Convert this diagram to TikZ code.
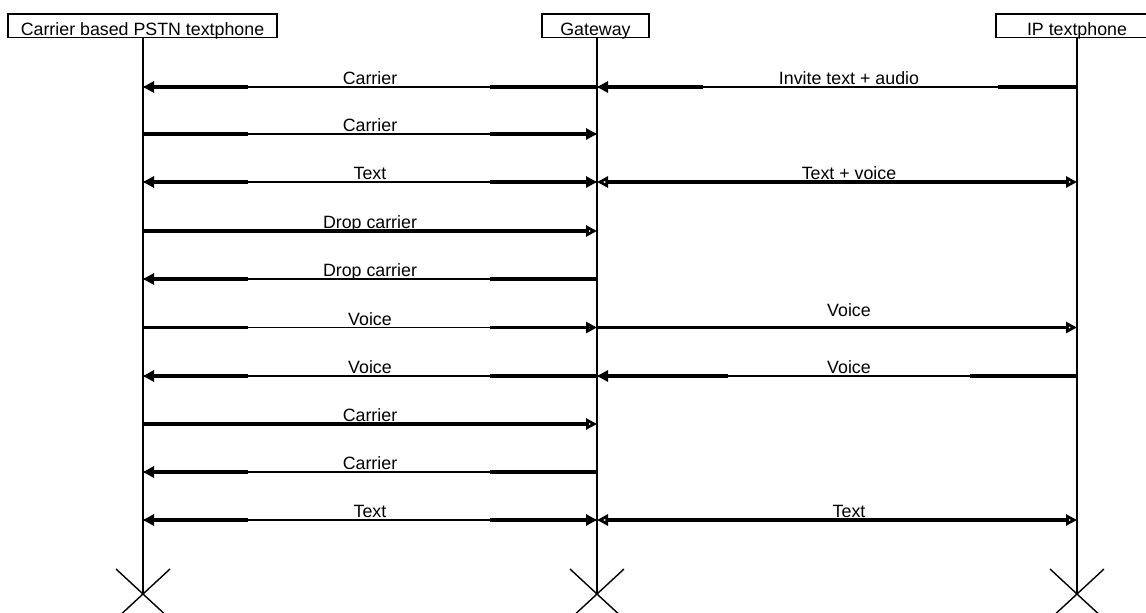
\documentclass[tikz,border=0pt]{standalone}
\usepackage{fontspec}
\setmainfont{Liberation Sans}
\usetikzlibrary{arrows.meta,calc}
\tikzset{
  Tp/.tip={Triangle[open,length=11pt,width=11pt,line width=2.8pt]},
  thn/.style={line width=1.3pt},
  thk/.style={line width=3.6pt},
  life/.style={line width=1.5pt},
  head/.style={draw,line width=1.4pt,inner sep=0pt,text height=21.7pt,text depth=2pt,anchor=base},
  lbl/.style={anchor=base,inner sep=0pt},
}
\newcommand\msgsplit[6]{%
  \draw[thn] (#1) -- (#2);
  \draw[thk,#5-] (#1) -- ++(#3,0);
  \draw[thk,-#6] ($(#2)+(-#4,0)$) -- (#2);
}
\newcommand\msgfull[4]{%
  \draw[thk,#3-#4] (#1) -- (#2);
}
\begin{document}
\begin{tikzpicture}[x=1pt,y=-1pt,font=\fontsize{17.8}{20}\selectfont]
\useasboundingbox (0,0) rectangle (1146,613);
\clip (0,0) rectangle (1146,613);
% header boxes
\node[head,minimum width=269pt] (pstn) at (142.5,35.7) {Carrier based PSTN textphone};
\node[head,minimum width=107pt] (gw) at (595.5,35.7) {Gateway};
\node[head,minimum width=162pt] (ip) at (1077,35.7) {IP textphone};
% lifeline ends
\coordinate (eL) at (143,594);
\coordinate (eG) at (597,594);
\coordinate (eR) at (1077,594);
\draw[life] (pstn.south -| eL) -- (eL);
\draw[life] (gw.south -| eG) -- (eG);
\draw[life] (ip.south -| eR) -- (eR);
\foreach \c in {eL,eG,eR}{
  \draw[line width=1.4pt] ($(\c)+(-27,-25)$) -- ($(\c)+(27,25)$);
  \draw[line width=1.4pt] ($(\c)+(27,-25)$) -- ($(\c)+(-27,25)$);
}
% row coordinates
\foreach \i/\y in {1/87,2/134,3/182,4/231,5/279,6/327.5,7/376,8/424,9/472,10/520}{
  \coordinate (L\i) at (143,\y);
  \coordinate (G\i) at (597,\y);
  \coordinate (R\i) at (1077,\y);
}
% messages
\msgsplit{L1}{G1}{105}{107}{Tp}{}
\msgsplit{G1}{R1}{106}{79}{Tp}{}
\msgsplit{L2}{G2}{105}{107}{}{Tp}
\msgsplit{L3}{G3}{105}{107}{Tp}{Tp}
\msgfull{G3}{R3}{Tp}{Tp}
\msgfull{L4}{G4}{}{Tp}
\msgsplit{L5}{G5}{105}{107}{Tp}{}
\msgsplit{L6}{G6}{105}{107}{}{Tp}
\msgfull{G6}{R6}{}{Tp}
\msgsplit{L7}{G7}{105}{107}{Tp}{}
\msgsplit{G7}{R7}{131}{107}{Tp}{}
\msgfull{L8}{G8}{}{Tp}
\msgsplit{L9}{G9}{105}{107}{Tp}{}
\msgsplit{L10}{G10}{105}{107}{Tp}{Tp}
\msgfull{G10}{R10}{Tp}{Tp}
% labels
\node[lbl] (t1) at (370,84) {Carrier};
\node[lbl] (t1r) at (849,84) {Invite text + audio};
\node[lbl] (t2) at (370,131.5) {Carrier};
\node[lbl] (t3) at (370,179.5) {Text};
\node[lbl] (t3r) at (849,179.5) {Text + voice};
\node[lbl] (t4) at (370,228.5) {Drop carrier};
\node[lbl] (t5) at (370,276.5) {Drop carrier};
\node[lbl] (t6) at (370,325) {Voice};
\node[lbl] (t6r) at (849,316) {Voice};
\node[lbl] (t7) at (370,373.5) {Voice};
\node[lbl] (t7r) at (849,373.5) {Voice};
\node[lbl] (t8) at (370,421.5) {Carrier};
\node[lbl] (t9) at (370,469.5) {Carrier};
\node[lbl] (t10) at (370,517.5) {Text};
\node[lbl] (t10r) at (849,517.5) {Text};
\end{tikzpicture}
\end{document}
